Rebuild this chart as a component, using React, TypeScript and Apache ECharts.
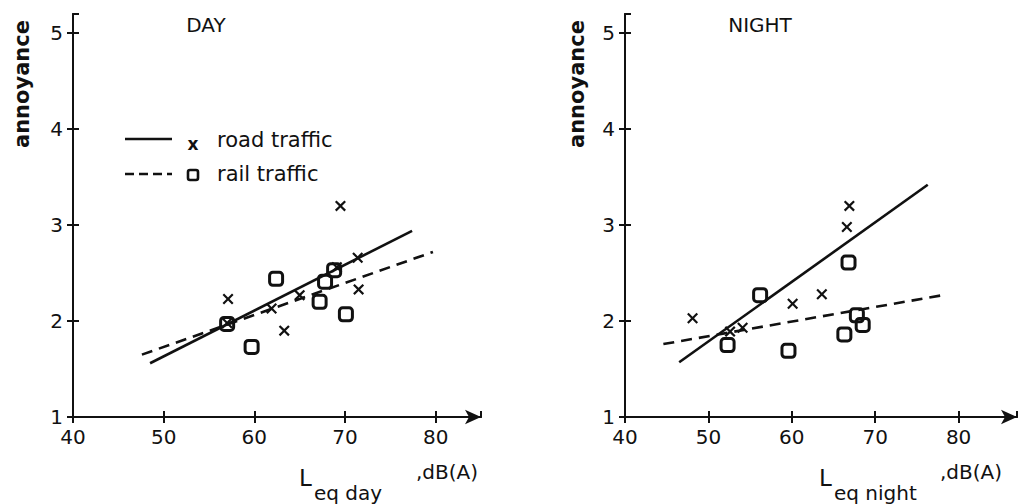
import React, { useEffect, useRef } from "react";
import * as echarts from "echarts";

// ---- data ----
const dayRoad: [number, number][] = [
  [57.1, 2.23], [69.5, 3.2], [63.3, 1.9], [71.5, 2.33], [71.4, 2.66],
  [61.9, 2.13], [69.1, 2.56], [57.0, 1.98], [65.0, 2.27],
];
const dayRail: [number, number][] = [
  [62.4, 2.44], [59.7, 1.73], [70.1, 2.07], [67.2, 2.2], [67.8, 2.41],
  [57.0, 1.97], [68.8, 2.53],
];
const dayRoadFit: [number, number][] = [[48.5, 1.56], [77.4, 2.94]];
const dayRailFit: [number, number][] = [[47.6, 1.65], [79.7, 2.72]];

const nightRoad: [number, number][] = [
  [48.1, 2.03], [66.9, 3.2], [66.6, 2.98], [60.1, 2.18], [63.6, 2.28],
  [54.1, 1.93], [52.6, 1.89],
];
const nightRail: [number, number][] = [
  [52.3, 1.75], [56.2, 2.27], [59.6, 1.69], [66.8, 2.61], [66.3, 1.86],
  [68.5, 1.96], [67.8, 2.06],
];
const nightRoadFit: [number, number][] = [[46.5, 1.57], [76.3, 3.42]];
const nightRailFit: [number, number][] = [[44.6, 1.76], [78.1, 2.27]];

const panelTitles = ["DAY", "NIGHT"];
const yAxisName = "annoyance";
const xNameSub = ["eq day", "eq night"];
const xNameUnit = ",dB(A)";
const legendLabels = ["road traffic", "rail traffic"];

const FONT = "'DejaVu Sans', 'Liberation Sans', sans-serif";
const INK = "#111";
const CROSS = "path://M0,1.4L1.4,0L5,3.6L8.6,0L10,1.4L6.4,5L10,8.6L8.6,10L5,6.4L1.4,10L0,8.6L3.6,5Z";

export default function App() {
  const ref = useRef<HTMLDivElement>(null);
  useEffect(() => {
    if (!ref.current) return;
    const chart = echarts.init(ref.current, null, { renderer: "svg" });

    const baseGrids = [
      { left: 73, top: 14, width: 408, height: 403 },
      { left: 625, top: 14, width: 392, height: 403 },
    ];
    // grids 2 and 3 overlay 0 and 1 to carry the inner half of the cross-shaped ticks
    const grids = [...baseGrids, ...baseGrids.map((g) => ({ ...g }))];
    const xMax = [85, 87];

    const mainX = (gi: number) => ({
      type: "value", gridIndex: gi, position: "bottom", min: 40, max: xMax[gi], interval: 10,
      axisLine: { show: true, onZero: false, lineStyle: { color: INK, width: 2 }, symbol: ["none", "arrow"], symbolSize: [11, 16] },
      axisTick: { show: true, inside: false, length: 6, lineStyle: { color: INK, width: 2 } },
      axisLabel: { show: true, showMaxLabel: false, color: INK, fontSize: 20, fontFamily: FONT, margin: 10 },
      splitLine: { show: false },
    });
    const dupX = (gi: number) => ({
      type: "value", gridIndex: gi + 2, position: "bottom", min: 40, max: xMax[gi], interval: 10,
      axisLine: { show: true, onZero: false, lineStyle: { color: INK, width: 2 } },
      axisTick: { show: true, inside: true, length: 6, lineStyle: { color: INK, width: 2 } },
      axisLabel: { show: false },
      splitLine: { show: false },
    });
    const mainY = (gi: number) => ({
      type: "value", gridIndex: gi, position: "left", min: 1, max: 5.2, interval: 1,
      axisLine: { show: true, onZero: false, lineStyle: { color: INK, width: 2 } },
      axisTick: { show: true, inside: false, length: 6, lineStyle: { color: INK, width: 2 } },
      axisLabel: { show: true, showMaxLabel: false, color: INK, fontSize: 20, fontFamily: FONT, margin: 10 },
      splitLine: { show: false },
    });
    const dupY = (gi: number) => ({
      type: "value", gridIndex: gi + 2, position: "left", min: 1, max: 5.2, interval: 1,
      axisLine: { show: true, onZero: false, lineStyle: { color: INK, width: 2 } },
      axisTick: { show: true, inside: true, length: 6, lineStyle: { color: INK, width: 2 } },
      axisLabel: { show: false },
      splitLine: { show: false },
    });

    const lineSeries = (data: [number, number][], xi: number, dashed: boolean) => ({
      type: "line", xAxisIndex: xi, yAxisIndex: xi, data, symbol: "none", silent: true,
      lineStyle: { color: INK, width: 2.6, type: dashed ? [11, 7] : "solid" },
    });
    const roadSeries = (data: [number, number][], xi: number) => ({
      type: "scatter", xAxisIndex: xi, yAxisIndex: xi, data, symbol: CROSS, symbolSize: 11,
      itemStyle: { color: INK, opacity: 1 },
    });
    const railSeries = (data: [number, number][], xi: number) => ({
      type: "scatter", xAxisIndex: xi, yAxisIndex: xi, data, symbol: "roundRect", symbolSize: 13,
      itemStyle: { color: "rgba(0,0,0,0)", borderColor: INK, borderWidth: 3, opacity: 1 },
    });
    const holder = (xi: number) => ({
      type: "scatter", xAxisIndex: xi, yAxisIndex: xi, data: [] as [number, number][], silent: true,
    });

    const textStyle = (size: number, weight: any = "normal") => ({
      fill: INK, fontSize: size, fontFamily: FONT, fontWeight: weight,
    });

    const panelGraphics = (gi: number) => {
      const lx = gi === 0 ? 22 : 577;
      const Lx = gi === 0 ? 299 : 819;
      const unitX = gi === 0 ? 416 : 940;
      return [
        { type: "text", x: gi === 0 ? 206 : 760, y: 25, style: { ...textStyle(20), text: panelTitles[gi], align: "center", verticalAlign: "middle" } },
        { type: "text", x: lx, y: 84, rotation: Math.PI / 2, style: { ...textStyle(21, "bold"), text: yAxisName, align: "center", verticalAlign: "middle" } },
        { type: "text", x: Lx, y: 478, style: { ...textStyle(23), text: "L", align: "left", verticalAlign: "middle" } },
        { type: "text", x: Lx + 15, y: 493, style: { ...textStyle(20), text: xNameSub[gi], align: "left", verticalAlign: "middle" } },
        { type: "text", x: unitX, y: 472, style: { ...textStyle(20), text: xNameUnit, align: "left", verticalAlign: "middle" } },
      ];
    };

    const legendGraphics = [
      { type: "line", shape: { x1: 125, y1: 139, x2: 172, y2: 139 }, style: { stroke: INK, lineWidth: 2.6 } },
      { type: "text", x: 193, y: 144, style: { ...textStyle(17, "bold"), text: "x", align: "center", verticalAlign: "middle" } },
      { type: "text", x: 217, y: 140, style: { ...textStyle(21), text: legendLabels[0], align: "left", verticalAlign: "middle" } },
      { type: "line", shape: { x1: 125, y1: 174, x2: 172, y2: 174 }, style: { stroke: INK, lineWidth: 2.6, lineDash: [9, 5] } },
      { type: "rect", shape: { x: 188, y: 170, width: 10, height: 10, r: 2 }, style: { fill: "none", stroke: INK, lineWidth: 2.6 } },
      { type: "text", x: 217, y: 174, style: { ...textStyle(21), text: legendLabels[1], align: "left", verticalAlign: "middle" } },
    ];

    chart.setOption({
      animation: false,
      backgroundColor: "#fff",
      grid: grids,
      xAxis: [mainX(0), mainX(1), dupX(0), dupX(1)],
      yAxis: [mainY(0), mainY(1), dupY(0), dupY(1)],
      series: [
        lineSeries(dayRoadFit, 0, false),
        lineSeries(dayRailFit, 0, true),
        roadSeries(dayRoad, 0),
        railSeries(dayRail, 0),
        lineSeries(nightRoadFit, 1, false),
        lineSeries(nightRailFit, 1, true),
        roadSeries(nightRoad, 1),
        railSeries(nightRail, 1),
        holder(2),
        holder(3),
      ],
      graphic: [...panelGraphics(0), ...panelGraphics(1), ...legendGraphics],
    });
    return () => chart.dispose();
  }, []);

  return (
    <div
      ref={ref}
      style={{ position: "fixed", left: 0, top: 0, width: 1033, height: 504, background: "#fff" }}
    />
  );
}
